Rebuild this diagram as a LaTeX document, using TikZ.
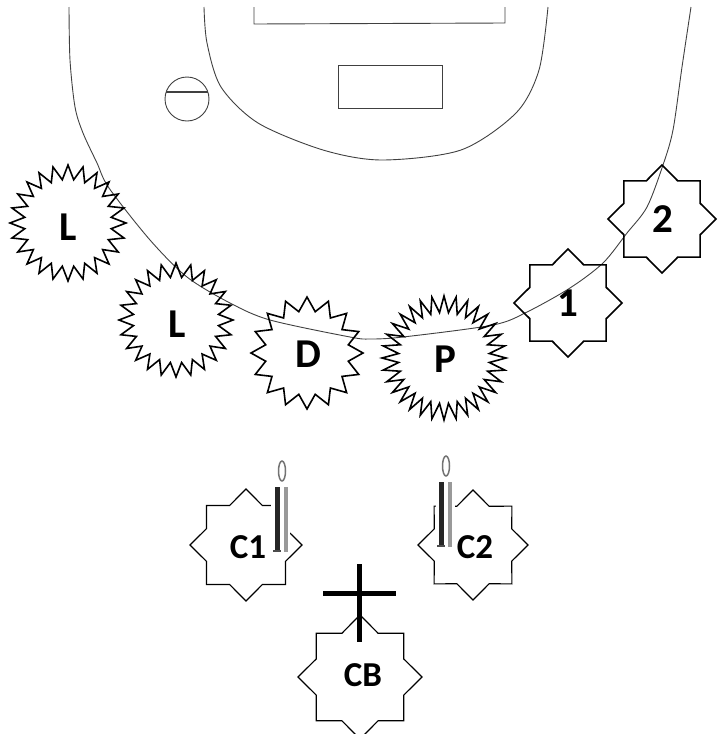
\documentclass[tikz,border=0pt]{standalone}
\usepackage{fontspec}
\setmainfont{Carlito}
\usepackage{tikz}
\usetikzlibrary{shapes.geometric}

\begin{document}
\begin{tikzpicture}[x=1pt, y=-1pt]
\tikzstyle{plan}=[black!75, line width=0.9pt]
\tikzstyle{spiky}=[star, star point ratio=1.33, inner sep=0pt, outer sep=0pt, line width=1.6pt, draw=black, miter limit=20]
\tikzstyle{q8}=[spiky, star points=8, star point ratio=1.31]
\tikzstyle{lab}=[font=\bfseries\fontsize{41}{41}\selectfont, inner sep=0pt]
\tikzstyle{labc}=[font=\bfseries\fontsize{35}{35}\selectfont, inner sep=0pt]
\path[use as bounding box, clip] (0,0) rectangle (722,734);
% stage outline
\draw[plan] plot[smooth] coordinates {(69,7) (70,60) (75,107) (83,133) (97,163) (109,188) (150,240) (187,277) (230,303) (270,320) (350,337) (370,339) (403,337) (493,325) (527,312) (570,288) (603,263) (627,233) (647,207) (663,165) (673,130) (682,67) (691,7)};
\draw[plan] plot[smooth] coordinates {(204,7) (207,43) (221,87) (258,123) (323,150) (382,160) (461,150) (516,113) (539,70) (548,7)};
\draw[plan] (254,7) -- (254,24) -- (505,23) -- (505,7);
\draw[plan] (338,65) rectangle (442,108);
\node[circle, plan, draw, minimum size=44pt, inner sep=0pt] (o) at (187,99) {};
\coordinate (ol) at (166,92);
\coordinate (or) at (208,92);
\path (ol) edge [plan, line width=1.3pt] (or);
% spiky ones
\node[spiky, star points=24, minimum size=116pt] (l1) at (68,223) {};
\node[spiky, star points=24, minimum size=114pt] (l2) at (176,320) {};
\node[spiky, star points=16, minimum size=112pt] (d) at (307,353) {};
\node[spiky, star points=32, star point ratio=1.36, minimum size=124pt] (p) at (444,358) {};
\node[lab] (l1t) at (68,227) {L};
\node[lab] (l2t) at (177,324) {L};
\node[lab] (dt) at (308,354) {D};
\node[lab] (pt) at (445,359) {P};
% eight points
\node[q8, minimum size=108pt] (n1) at (568,303) {};
\node[q8, minimum size=108pt] (n2) at (662,219) {};
\node[q8, minimum size=112pt, line width=1.2pt] (c1) at (246,545) {};
\node[q8, minimum size=110pt, line width=1.2pt] (c2) at (473,545) {};
\node[q8, minimum size=124pt, line width=1.2pt] (cb) at (360,677) {};
\node[lab] (n1t) at (568,303) {1};
\node[lab] (n2t) at (663,219) {2};
\node[labc] (c1t) at (248,547) {C1};
\node[labc] (c2t) at (475,547) {C2};
\node[labc] (cbt) at (363,675) {CB};
% candles
\foreach \x/\y/\w in {275/487/271, 439/482/436} {
  \fill[white] (\w,\y-30) rectangle (\w+19,\y+66);
  \draw[black!55, line width=1.5pt] (\x+7,\y-16) ellipse (3.5pt and 10pt);
  \fill[black!85] (\x,\y) rectangle (\x+5,\y+65);
  \fill[black!40] (\x+9,\y) rectangle (\x+13,\y+65);
  \fill[black!70] (\x-2,\y+63) rectangle (\x+6,\y+65);
}
% cross
\coordinate (ct) at (359,564);
\coordinate (cu) at (359,642);
\coordinate (cl) at (323,593);
\coordinate (cr) at (396,593);
\draw[line width=5pt] (ct) -- (cu);
\draw[line width=5pt] (cl) -- (cr);
\end{tikzpicture}
\end{document}
